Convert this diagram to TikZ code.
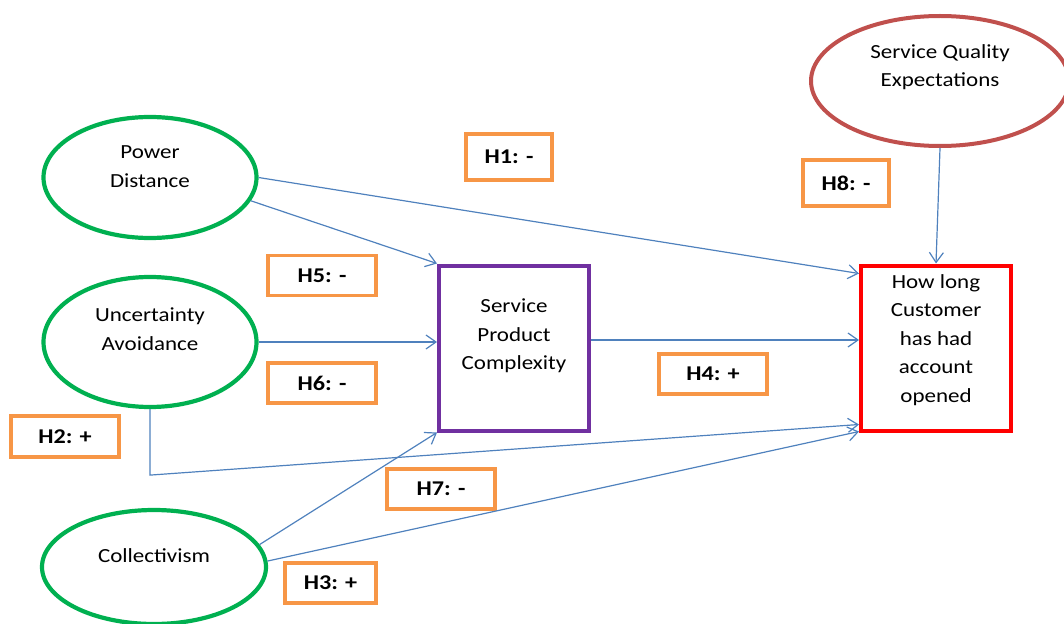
\documentclass[tikz,border=0pt]{standalone}
\usepackage{fontspec}
\setmainfont{Carlito}[FakeStretch=1.15]
\usetikzlibrary{arrows.meta,calc,shapes.geometric}
\definecolor{constructgreen}{RGB}{0,176,80}
\definecolor{hypoorange}{RGB}{247,150,70}
\definecolor{linkblue}{RGB}{79,129,189}
\definecolor{mediatorpurple}{RGB}{112,48,160}
\definecolor{moderatorred}{RGB}{192,80,77}
\begin{document}
\begin{tikzpicture}[x=1pt,y=-1pt,
  construct/.style={ellipse,draw=constructgreen,line width=4.2pt,inner sep=0pt},
  moderator/.style={ellipse,draw=moderatorred,line width=4pt,inner sep=0pt},
  ovaltext/.style={align=center,font=\fontsize{20}{28.5}\selectfont},
  mediator/.style={rectangle,draw=mediatorpurple,line width=4pt,inner sep=0pt},
  outcome/.style={rectangle,draw=red,line width=4pt,inner sep=0pt},
  hyp/.style={rectangle,draw=hypoorange,line width=3.4pt,inner sep=0pt,
    font=\fontsize{21}{24}\selectfont\bfseries},
  conn/.style={draw=linkblue,line width=1.2pt,-{Straight Barb[length=10pt,width=14pt,line width=1.2pt]}}]
\useasboundingbox (0,0) rectangle (1064,623);
\begin{scope}
\clip (0,0) rectangle (1064,623);

% latent constructs
\node[construct,minimum width=213pt,minimum height=121pt,
  label={[ovaltext,yshift=11pt]center:Power\\Distance}] (pd) at (150,177.5) {};
\node[construct,minimum width=213pt,minimum height=130pt,
  label={[ovaltext,yshift=13pt]center:Uncertainty\\Avoidance}] (ua) at (150,342) {};
\node[construct,minimum width=224pt,minimum height=114pt,
  label={[ovaltext,yshift=11pt]center:Collectivism}] (coll) at (154,567) {};
\node[moderator,minimum width=258pt,minimum height=130pt,
  label={[ovaltext,yshift=14pt]center:Service Quality\\Expectations}] (sqe) at (940,81) {};

% mediator and outcome
\node[mediator,minimum width=150pt,minimum height=165pt,
  label={[ovaltext,yshift=12pt]center:Service\\Product\\Complexity}] (spc) at (514,348) {};
\node[outcome,minimum width=150pt,minimum height=165pt,
  label={[ovaltext,yshift=8pt]center:How long\\Customer\\has had\\account\\opened}] (hl) at (936,348) {};

% hypothesis labels
\node[hyp,minimum width=86pt,minimum height=46pt] (h1) at (509,157) {H1: -};
\node[hyp,minimum width=86pt,minimum height=46pt] (h8) at (846,183) {H8: -};
\node[hyp,minimum width=108pt,minimum height=40pt] (h5) at (322,275.5) {H5: -};
\node[hyp,minimum width=108pt,minimum height=40pt] (h6) at (322,383) {H6: -};
\node[hyp,minimum width=108pt,minimum height=41pt] (h2) at (65,436.5) {H2: +};
\node[hyp,minimum width=108pt,minimum height=40pt] (h4) at (713,374) {H4: +};
\node[hyp,minimum width=108pt,minimum height=40pt] (h7) at (441,489) {H7: -};
\node[hyp,minimum width=91pt,minimum height=40pt] (h3) at (330.5,583) {H3: +};

% paths
\draw[conn] (pd.east) -- ($(hl.north west)+(0,10)$);
\draw[conn] (pd.-13) -- (spc.north west);
\draw[conn] (ua.east) -- (ua.east -| spc.west);
\draw[conn] ($(spc.east)+(0,-8)$) -- ($(hl.west)+(0,-8)$);
\draw[conn] (ua.south) -- ++(0,66) -- ($(hl.south west)+(0,-8)$);
\draw[conn] (coll.12) -- (spc.south west);
\draw[conn] (coll.3) -- ($(hl.south west)+(0,-1)$);
\draw[conn] (sqe.south) -- (hl.north);
\end{scope}
\end{tikzpicture}
\end{document}
